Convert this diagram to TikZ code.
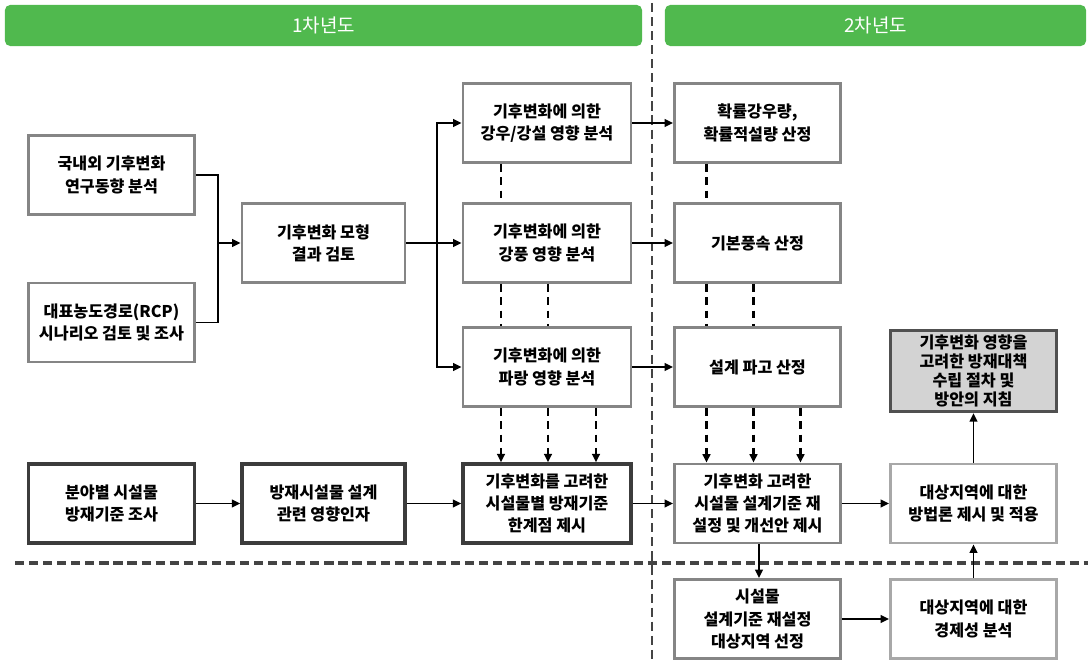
\documentclass[tikz,border=0pt]{standalone}
\usepackage{fontspec}
\setmainfont{Noto Sans CJK KR}
\usepackage{xcolor}
\usetikzlibrary{arrows.meta, calc}
\definecolor{barGreen}{HTML}{50B94E}
\definecolor{boxGray}{HTML}{858585}
\definecolor{boxDark}{HTML}{3C3C3C}
\definecolor{boxLight}{HTML}{A8A8A8}
\definecolor{fillGray}{HTML}{D3D3D3}
\definecolor{sepGray}{HTML}{444444}

\tikzset{
  hdr/.style={fill=barGreen, rounded corners=0.13cm, minimum height=1.025cm,
    text=white, font=\fontsize{13.5}{16}\selectfont},
  stage/.style={draw=boxGray, line width=2pt, fill=white, align=center,
    minimum width=4.15cm, minimum height=1.975cm, inner sep=0pt,
    font=\bfseries\fontsize{11.5}{15.8}\selectfont},
  stagedark/.style={stage, draw=boxDark, line width=2.4pt},
  stagelight/.style={stage, draw=boxLight},
  goal/.style={stage, draw=boxDark!90, fill=fillGray, line width=2.4pt,
    font=\bfseries\fontsize{11.5}{13.6}\selectfont},
  link/.style={line width=1.3pt},
  arr/.style={link, -{Triangle[length=6pt,width=5.5pt]}},
  dline/.style={line width=1.6pt, dash pattern=on 5.5pt off 4pt},
  darr/.style={dline, -{Triangle[length=6pt,width=5.5pt]}},
  sep/.style={draw=sepGray, line width=1.9pt, dash pattern=on 6.5pt off 3.5pt}
}

\begin{document}
\begin{tikzpicture}[x=0.025cm, y=-0.025cm]
  \useasboundingbox (0,0) rectangle (1088,662);

  % year separators
  \draw[sep] (652,3) -- (652,662);
  \draw[sep, line width=2.2pt] (15,563) -- (1088,563);

  % year headers
  \node[hdr, minimum width=15.925cm] (yr1) at (323.5,25.5) {1차년도};
  \node[hdr, minimum width=10.525cm] (yr2) at (875.5,25.5) {2차년도};

  % first year
  \node[stage] (trend) at (111.5,175) {국내외 기후변화\\연구동향 분석};
  \node[stage] (rcp) at (111.5,322.5) {대표농도경로(RCP)\\시나리오 검토 및 조사};
  \node[stage, minimum width=4.075cm] (model) at (323.5,243) {기후변화 모형\\결과 검토};
  \node[stage, minimum width=4.2cm] (rain) at (547,123) {기후변화에 의한\\강우/강설 영향 분석};
  \node[stage, minimum width=4.2cm] (wind) at (547,243) {기후변화에 의한\\강풍 영향 분석};
  \node[stage, minimum width=4.2cm] (wave) at (547,367) {기후변화에 의한\\파랑 영향 분석};
  \node[stagedark] (field) at (111.5,503.5) {분야별 시설물\\방재기준 조사};
  \node[stagedark, minimum width=4.075cm] (factor) at (323.5,503.5) {방재시설물 설계\\관련 영향인자};
  \node[stagedark, minimum width=4.2cm] (limit) at (547,503.5) {기후변화를 고려한\\시설물별 방재기준\\한계점 제시};

  % second year
  \node[stage] (prob) at (757.5,123) {확률강우량,\\확률적설량 산정};
  \node[stage] (speed) at (757.5,243) {기본풍속 산정};
  \node[stage] (height) at (757.5,367) {설계 파고 산정};
  \node[stage] (revise) at (757.5,503.5) {기후변화 고려한\\시설물 설계기준 재\\설정 및 개선안 제시};
  \node[stage] (site) at (757.5,619) {시설물\\설계기준 재설정\\대상지역 선정};
  \node[stagelight] (apply) at (973.5,503.5) {대상지역에 대한\\방법론 제시 및 적용};
  \node[stagelight] (econ) at (973.5,619) {대상지역에 대한\\경제성 분석};
  \node[goal, minimum height=2.025cm] (guide) at (973.5,371) {기후변화 영향을\\고려한 방재대책\\수립 절차 및\\방안의 지침};

  % solid connectors
  \coordinate (jl) at (218,243);
  \coordinate (jr) at (437,243);
  \draw[link] (trend.east) -| (jl) |- (rcp.east);
  \draw[arr] (jl) -- (model.west);
  \draw[link] (model.east) -- (jr);
  \draw[arr] (jr) |- (rain.west);
  \draw[arr] (jr) -- (wind.west);
  \draw[arr] (jr) |- (wave.west);
  \draw[arr] (rain.east) -- (prob.west);
  \draw[arr] (wind.east) -- (speed.west);
  \draw[arr] (wave.east) -- (height.west);
  \draw[arr] (field.east) -- (factor.west);
  \draw[arr] (factor.east) -- (limit.west);
  \draw[arr] (limit.east) -- (revise.west);
  \draw[arr] (revise.east) -- (apply.west);
  \draw[arr] ($(revise.south)+(1.5,0)$) -- ($(site.north)+(1.5,0)$);
  \draw[arr] (site.east) -- (econ.west);
  \draw[arr] (econ.north) -- (apply.south);
  \draw[arr] (apply.north) -- (guide.south);

  % dashed links, first year
  \draw[dline] ($(rain.south)+(-46,0)$) -- ($(wind.north)+(-46,0)$);
  \foreach \dx in {-46,1}
    \draw[dline] ($(wind.south)+(\dx,0)$) -- ($(wave.north)+(\dx,0)$);
  \foreach \dx in {-46,1,49}
    \draw[darr] ($(wave.south)+(\dx,0)$) -- ($(limit.north)+(\dx,0)$);

  % dashed links, second year
  \draw[dline] ($(prob.south)+(-51,0)$) -- ($(speed.north)+(-51,0)$);
  \foreach \dx in {-51,-4}
    \draw[dline] ($(speed.south)+(\dx,0)$) -- ($(height.north)+(\dx,0)$);
  \foreach \dx in {-51,-4,43}
    \draw[darr] ($(height.south)+(\dx,0)$) -- ($(revise.north)+(\dx,0)$);
\end{tikzpicture}
\end{document}
